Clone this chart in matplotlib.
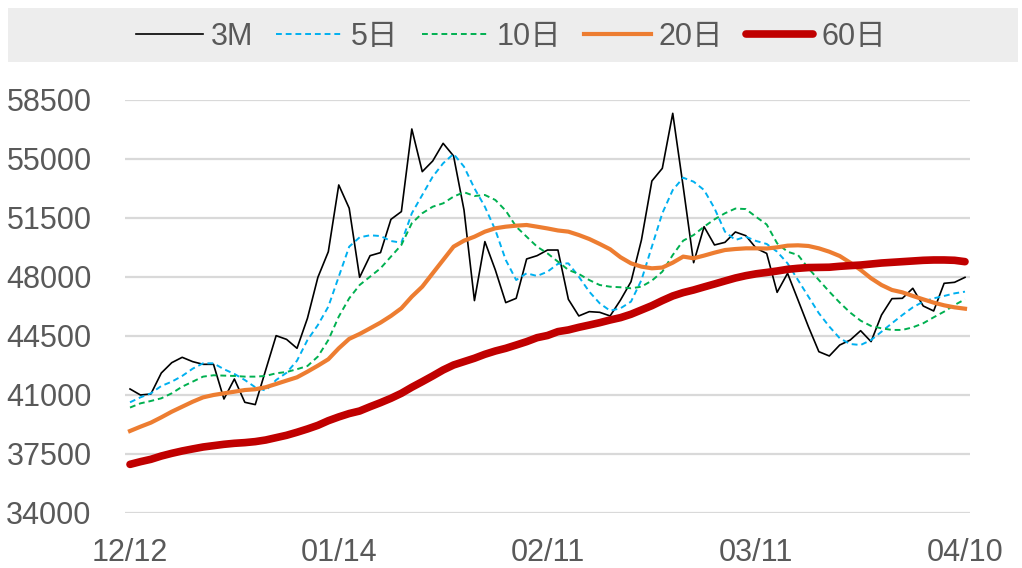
import matplotlib
matplotlib.use('Agg')
import matplotlib.pyplot as plt
from matplotlib.patches import Rectangle

# series values, 81 trading days
close_3m = [41357, 41000, 41060, 42306, 42918, 43236, 42980, 42820, 42820, 40763,
            41950, 40567, 40430, 42480, 44520, 44300, 43770, 45550, 47980, 49500,
            53460, 52080, 47980, 49265, 49445, 51420, 51880, 56780, 54250, 54880,
            55930, 55180, 51975, 46600, 50100, 48420, 46480, 46735, 49070, 49265,
            49600, 49600, 46675, 45690, 45945, 45905, 45690, 46640, 47720, 50195,
            53695, 54445, 57710, 53360, 48850, 50985, 49900, 50055, 50670, 50450,
            49700, 49400, 47090, 48220, 46640, 45050, 43570, 43315, 43965, 44260,
            44815, 44165, 45745, 46715, 46735, 47330, 46280, 45985, 47625, 47685,
            47980]
ma5 = [40567, 40860, 41100, 41535, 41790, 42130, 42560, 42880, 42880, 42530,
       42250, 41890, 41460, 41260, 41890, 42320, 43035, 44260, 45150, 46240,
       48020, 49800, 50355, 50475, 50430, 50135, 50035, 51780, 52865, 53950,
       54745, 55300, 54545, 53260, 52170, 50790, 49010, 47820, 48220, 48060,
       48315, 48780, 48810, 48020, 47130, 46440, 46000, 46145, 46540, 47820,
       49800, 51780, 53160, 53890, 53655, 53160, 52075, 50690, 50195, 50390,
       50135, 49960, 49500, 48810, 47820, 46835, 45850, 45060, 44365, 44025,
       43965, 44260, 44755, 45255, 45745, 46200, 46540, 46735, 46875, 47030,
       47130]
ma10 = [40255, 40505, 40645, 40805, 41100, 41495, 41790, 42090, 42170, 42150,
        42130, 42090, 42090, 42130, 42290, 42365, 42530, 42720, 43280, 44260,
        45650, 46735, 47525, 48020, 48515, 49210, 49900, 51190, 51780, 52170,
        52370, 52770, 53030, 52805, 52865, 52570, 51935, 50985, 50390, 49800,
        49400, 48910, 48420, 48180, 47820, 47525, 47425, 47390, 47330, 47425,
        47785, 48315, 49305, 50155, 50490, 50985, 51420, 51780, 52060, 52030,
        51560, 51115, 50000, 49500, 49305, 48515, 47820, 47130, 46480, 45890,
        45410, 45095, 44955, 44860, 44860, 45015, 45255, 45610, 45945, 46340,
        46675]
ma20 = [38865, 39120, 39360, 39675, 40010, 40305, 40600, 40860, 41000, 41100,
        41195, 41295, 41340, 41460, 41655, 41855, 42050, 42385, 42740, 43120,
        43770, 44330, 44620, 44955, 45295, 45690, 46145, 46835, 47425, 48220,
        49010, 49800, 50155, 50390, 50690, 50890, 50985, 51045, 51085, 50985,
        50880, 50760, 50690, 50490, 50255, 49960, 49645, 49170, 48810, 48615,
        48515, 48560, 48850, 49210, 49110, 49270, 49445, 49600, 49660, 49700,
        49700, 49690, 49760, 49860, 49880, 49840, 49700, 49500, 49245, 48850,
        48420, 47925, 47525, 47230, 47090, 46875, 46675, 46480, 46320, 46200,
        46120]
ma60 = [36885, 37045, 37185, 37380, 37540, 37680, 37800, 37915, 37995, 38075,
        38135, 38175, 38235, 38330, 38470, 38610, 38790, 38985, 39200, 39475,
        39700, 39900, 40050, 40305, 40545, 40805, 41100, 41460, 41790, 42130,
        42485, 42780, 42980, 43180, 43415, 43610, 43770, 43965, 44165, 44400,
        44530, 44760, 44860, 45015, 45150, 45290, 45450, 45590, 45790, 46045,
        46300, 46600, 46875, 47075, 47230, 47410, 47585, 47765, 47940, 48080,
        48190, 48270, 48355, 48455, 48515, 48560, 48570, 48580, 48635, 48675,
        48710, 48770, 48830, 48870, 48910, 48950, 48990, 49010, 49010, 48990,
        48910]

xtick_pos = [0, 20, 40, 60, 80]
xtick_labels = ['12/12', '01/14', '02/11', '03/11', '04/10']
yticks = [34000, 37500, 41000, 44500, 48000, 51500, 55000, 58500]

fonts = ['Liberation Sans', 'Arial', 'Noto Sans CJK SC', 'DejaVu Sans']
plt.rcParams['font.family'] = fonts
txt_color = '#595959'

fig = plt.figure(figsize=(10.22, 5.68), dpi=100)
ax = fig.add_axes([125 / 1022, 1 - 513 / 568, 845 / 1022, 413 / 568])

x = list(range(len(close_3m)))
ax.plot(x, close_3m, color='black', lw=1.2, label='3M')
ax.plot(x, ma5, color='#00b0f0', lw=1.4, ls=(0, (3, 2)), label='5日')
ax.plot(x, ma10, color='#00b050', lw=1.4, ls=(0, (3, 2)), label='10日')
ax.plot(x, ma20, color='#ed7d31', lw=3, label='20日')
ax.plot(x, ma60, color='#c00000', lw=5.5, solid_capstyle='round', label='60日')

ax.set_xlim(-0.48, 80.48)
ax.set_ylim(34000, 58500)
ax.set_yticks(yticks)
ax.set_xticks(xtick_pos)
ax.set_xticklabels(xtick_labels)
ax.grid(axis='y', color='#d9d9d9', lw=1.6)
ax.set_axisbelow(True)
for s in ax.spines.values():
    s.set_visible(False)
ax.tick_params(axis='both', length=0, labelsize=22, colors=txt_color)
ax.tick_params(axis='y', pad=24)
ax.tick_params(axis='x', pad=18)

# grey legend band
fig.patches.append(Rectangle((8 / 1022, 1 - 62 / 568), 1010 / 1022, 54 / 568,
                             transform=fig.transFigure, facecolor='#ededed',
                             edgecolor='none', zorder=0))
leg = fig.legend(loc='center', bbox_to_anchor=(0.5, 1 - 37 / 568), ncol=5,
                 frameon=False, fontsize=22, handlelength=2.2,
                 handletextpad=0.25, columnspacing=0.75, borderpad=0)
for t in leg.get_texts():
    t.set_color(txt_color)

fig.savefig('out.png', dpi=100)
